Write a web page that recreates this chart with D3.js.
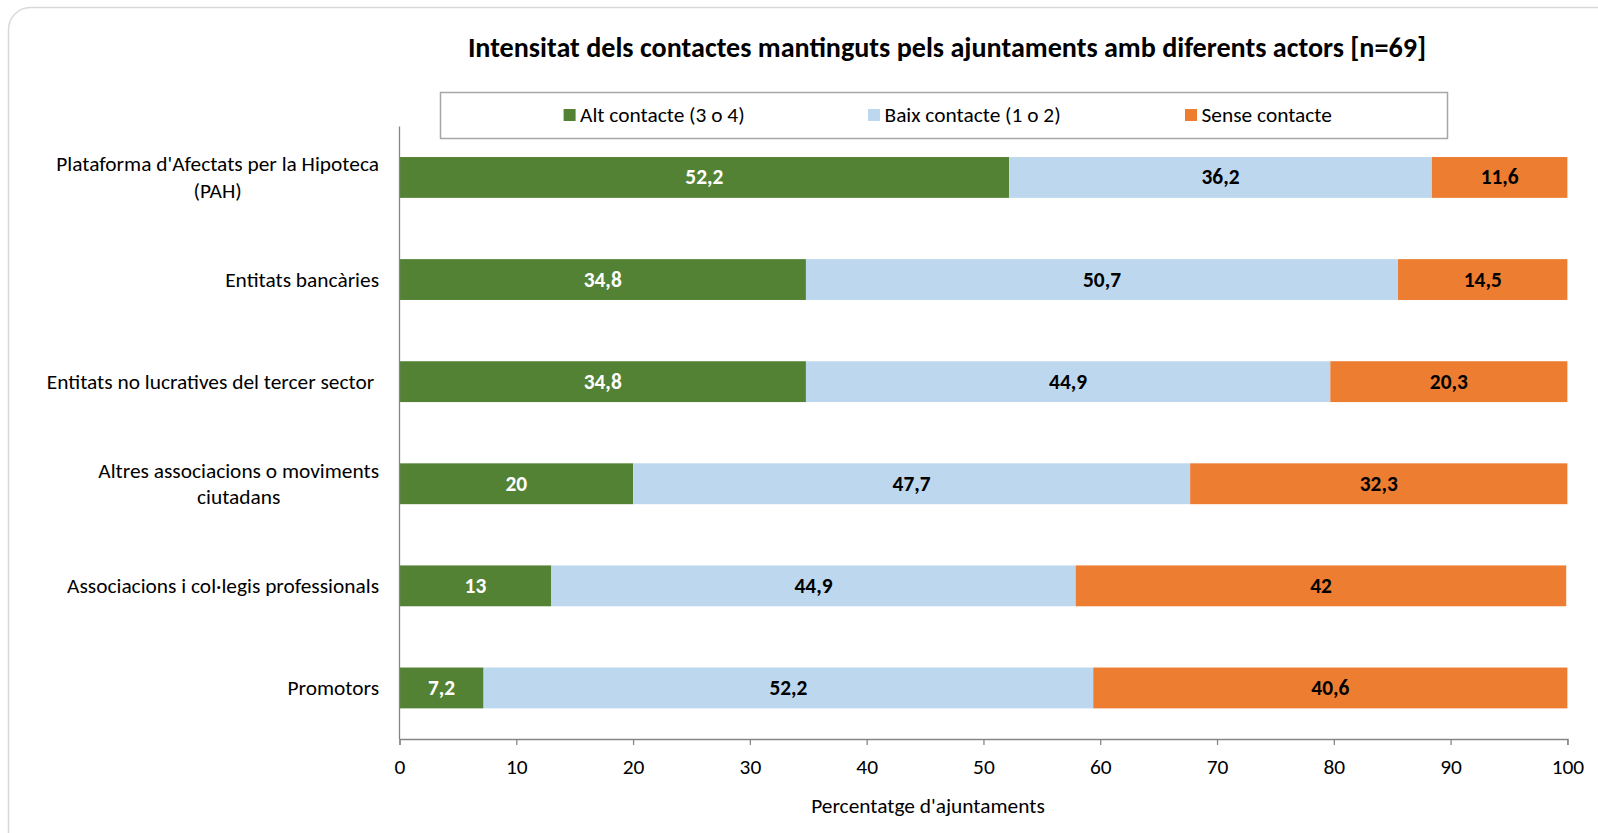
<!DOCTYPE html>
<html>
<head>
<meta charset="utf-8">
<script src="https://cdn.jsdelivr.net/npm/d3@7"></script>
<style>
  html, body { margin: 0; padding: 0; background: #fff; overflow: hidden; }
  svg { display: block; }
  text { font-family: Calibri, Carlito, Lato, "Open Sans", sans-serif; fill: #000; white-space: pre; }
</style>
</head>
<body>
<svg id="chart" width="1598" height="833"></svg>
<script>
const title = "Intensitat dels contactes mantinguts pels ajuntaments amb diferents actors [n=69]";
const categories = [
  ["Plataforma d'Afectats per la Hipoteca", "(PAH)"],
  ["Entitats bancàries"],
  ["Entitats no lucratives del tercer sector "],
  ["Altres associacions o moviments", "ciutadans"],
  ["Associacions i col·legis professionals"],
  ["Promotors"]
];
const seriesNames = ["Alt contacte (3 o 4)", "Baix contacte (1 o 2)", "Sense contacte"];
const altValues = [52.2, 34.8, 34.8, 20, 13, 7.2];
const baixValues = [36.2, 50.7, 44.9, 47.7, 44.9, 52.2];
const senseValues = [11.6, 14.5, 20.3, 32.3, 42, 40.6];
const xTicks = [0, 10, 20, 30, 40, 50, 60, 70, 80, 90, 100];
const xTitle = "Percentatge d'ajuntaments";
const colors = ["#548235", "#BDD7EE", "#ED7D31"];
const labelColors = ["#ffffff", "#000000", "#000000"];

const svg = d3.select("#chart");

// outer frame
svg.append("rect").attr("x", 8.5).attr("y", 7.5).attr("width", 1620).attr("height", 860)
  .attr("rx", 22).attr("fill", "#fff").attr("stroke", "#d9d9d9").attr("stroke-width", 1.5);

// font size fitting
function measure(txt, size, weight) {
  const t = svg.append("text").attr("font-size", size).attr("font-weight", weight || "normal").text(txt);
  const w = t.node().getComputedTextLength();
  t.remove();
  return w;
}
const baseSize = 18 * 312 / measure("Associacions i col·legis professionals", 18);
const titleSize = 22 * 959 / measure(title, 22, "bold");

const margin = { left: 399.5, right: 1567.4, top: 126.4, bottom: 739 };
const x = d3.scaleLinear().domain([0, 100]).range([margin.left, margin.right]);
const y = d3.scaleBand().domain(d3.range(categories.length)).range([margin.top, margin.bottom])
  .paddingInner(0.6).paddingOuter(0.3);

// title
svg.append("text").attr("x", 947).attr("y", 47).attr("text-anchor", "middle")
  .attr("dominant-baseline", "central").attr("font-weight", "bold").attr("font-size", titleSize)
  .text(title);

// legend
const legend = svg.append("g");
legend.append("rect").attr("x", 440.5).attr("y", 92.5).attr("width", 1007).attr("height", 46)
  .attr("fill", "#fff").attr("stroke", "#a6a6a6").attr("stroke-width", 1.5);
const legendX = [563.6, 868, 1185];
seriesNames.forEach((n, i) => {
  legend.append("rect").attr("x", legendX[i]).attr("y", 115 - 6).attr("width", 12).attr("height", 12)
    .attr("fill", colors[i]);
  legend.append("text").attr("x", legendX[i] + 16.5).attr("y", 115).attr("dominant-baseline", "central")
    .attr("font-size", baseSize).text(n);
});

// stacked data
const rows = categories.map((c, i) => ({ idx: i, a: altValues[i], b: baixValues[i], c: senseValues[i] }));
const stack = d3.stack().keys(["a", "b", "c"])(rows);

stack.forEach((layer, si) => {
  const g = svg.append("g");
  g.selectAll("rect").data(layer).join("rect")
    .attr("x", d => x(d[0]))
    .attr("width", d => x(d[1]) - x(d[0]))
    .attr("y", d => y(d.data.idx))
    .attr("height", y.bandwidth())
    .attr("fill", colors[si]);
  g.selectAll("text").data(layer).join("text")
    .attr("x", d => (x(d[0]) + x(d[1])) / 2)
    .attr("y", d => y(d.data.idx) + y.bandwidth() / 2)
    .attr("text-anchor", "middle").attr("dominant-baseline", "central")
    .attr("font-weight", "bold").attr("font-size", baseSize)
    .style("fill", labelColors[si])
    .text(d => String(+(d[1] - d[0]).toFixed(1)).replace(".", ","));
});

// y axis line
svg.append("line").attr("x1", margin.left).attr("x2", margin.left)
  .attr("y1", margin.top).attr("y2", margin.bottom).attr("stroke", "#868686").attr("stroke-width", 1.3);

// x axis
const xAxis = svg.append("g").attr("transform", `translate(0,${margin.bottom})`)
  .call(d3.axisBottom(x).tickValues(xTicks).tickSize(6).tickPadding(8).tickFormat(d3.format("d")));
xAxis.select(".domain").attr("stroke", "#868686").attr("stroke-width", 1.3);
xAxis.selectAll(".tick line").attr("stroke", "#868686").attr("stroke-width", 1.3);
xAxis.selectAll(".tick text").attr("font-size", baseSize).attr("font-family", null).style("fill", "#000")
  .attr("dy", null).attr("y", 28).attr("dominant-baseline", "central");

svg.append("text").attr("x", 928).attr("y", 806).attr("text-anchor", "middle")
  .attr("dominant-baseline", "central").attr("font-size", baseSize).text(xTitle);

// category labels
const labelRight = 379;
categories.forEach((lines, i) => {
  const cy = y(i) + y.bandwidth() / 2;
  const widest = d3.max(lines, l => measure(l, baseSize));
  const cx = labelRight - widest / 2;
  const lh = 26.5;
  lines.forEach((l, j) => {
    svg.append("text").attr("x", cx).attr("y", cy + (j - (lines.length - 1) / 2) * lh)
      .attr("text-anchor", "middle").attr("dominant-baseline", "central")
      .attr("font-size", baseSize).text(l);
  });
});
</script>
</body>
</html>
